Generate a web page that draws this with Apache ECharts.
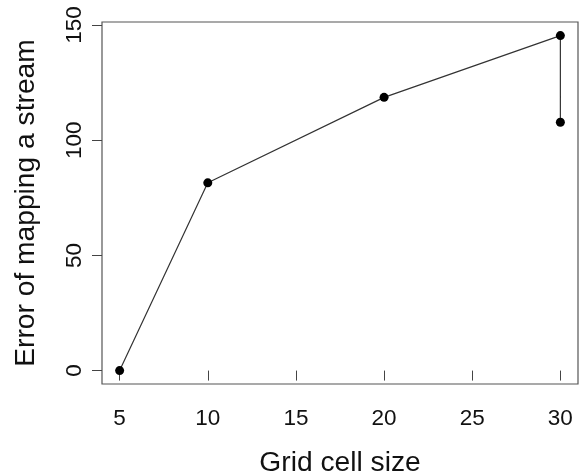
<!DOCTYPE html>
<html>
<head>
<meta charset="utf-8">
<script src="https://cdn.jsdelivr.net/npm/echarts@6/dist/echarts.min.js"></script>
<style>
html,body{margin:0;padding:0;background:#fff;}
#chart{width:580px;height:475px;}
</style>
</head>
<body>
<div id="chart"></div>
<script>
const gridSizes = [5, 10, 20, 30, 30];
const errors = [0, 81.5, 118.6, 145.4, 107.8];
const xTicks = [5, 10, 15, 20, 25, 30];
const yTicks = [0, 50, 100, 150];
const xTitle = 'Grid cell size';
const yTitle = 'Error of mapping a stream';

const chart = echarts.init(document.getElementById('chart'), null, {renderer: 'canvas'});
const font = 'Liberation Sans, Arial, Helvetica, sans-serif';
chart.setOption({
  animation: false,
  backgroundColor: '#fff',
  grid: {
    left: 102, right: 2, top: 22, bottom: 91,
    containLabel: false, outerBoundsMode: 'none',
    show: true, borderColor: '#555', borderWidth: 1.2, backgroundColor: 'transparent'
  },
  xAxis: {
    type: 'value', min: 4, max: 31,
    name: xTitle, nameLocation: 'middle', nameGap: 65,
    nameTextStyle: {fontFamily: font, fontSize: 28.2, color: '#111'},
    axisLine: {show: false},
    axisTick: {show: true, inside: false, length: 10, customValues: xTicks, lineStyle: {color: '#444', width: 1}},
    axisLabel: {customValues: xTicks, margin: 23, fontFamily: font, fontSize: 22.5, color: '#111'},
    splitLine: {show: false}
  },
  yAxis: {
    type: 'value', min: -5.82, max: 151.3,
    name: yTitle, nameLocation: 'middle', nameGap: 62,
    nameTextStyle: {fontFamily: font, fontSize: 28.2, color: '#111'},
    axisLine: {show: false},
    axisTick: {show: true, inside: false, length: 10, customValues: yTicks, lineStyle: {color: '#444', width: 1}},
    axisLabel: {customValues: yTicks, rotate: 90, margin: 16, fontFamily: font, fontSize: 22.5, color: '#111'},
    splitLine: {show: false}
  },
  series: [{
    type: 'line',
    data: gridSizes.map((x, i) => [x, errors[i]]),
    symbol: 'circle', symbolSize: 9,
    itemStyle: {color: '#000'},
    lineStyle: {color: '#333', width: 1.2},
    z: 3
  }]
});
</script>
</body>
</html>
